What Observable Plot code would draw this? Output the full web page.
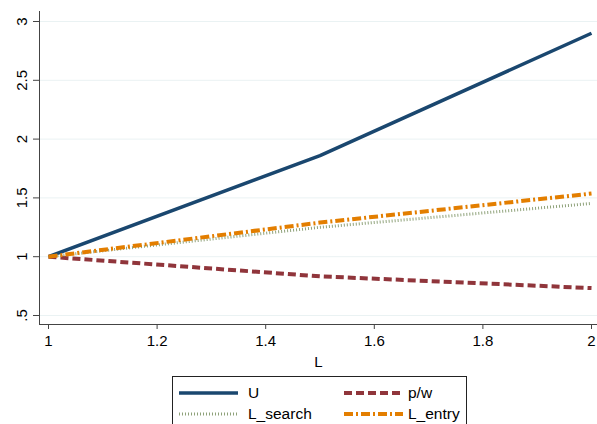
<!DOCTYPE html>
<html>
<head>
<meta charset="utf-8">
<script src="https://cdn.jsdelivr.net/npm/d3@7"></script>
<script src="https://cdn.jsdelivr.net/npm/@observablehq/plot@0.6"></script>
<style>
  body { margin: 0; background: #fff; font-family: "Liberation Sans", Arial, Helvetica, sans-serif; }
  #wrap { width: 597px; }
  #legend {
    margin-left: 172px; margin-top: 6px; width: 293px; height: 60px;
    border: 1px solid #222; box-sizing: content-box;
    display: grid; grid-template-columns: 165px 128px; grid-auto-rows: 21px;
    padding-top: 5px; font-size: 15.5px; color: #000;
  }
  .item { display: flex; align-items: center; }
  .item svg { margin-left: 6px; margin-right: 10px; }
  .item.c2 svg { margin-right: 5px; }
</style>
</head>
<body>
<div id="wrap"></div>
<script>
const Lvals = [1, 1.5, 2];
const U = [1, 1.86, 2.9];
const pw = [1, 0.833, 0.733];
const Lsearch = [1, 1.25, 1.453];
const Lentry = [1, 1.29, 1.537];
const yTicks = [0.5, 1, 1.5, 2, 2.5, 3];
const xTicks = [1, 1.2, 1.4, 1.6, 1.8, 2];

const seriesDefs = [
  {name: "U", values: U, color: "#1a476f", width: 3.5, dash: null},
  {name: "p/w", values: pw, color: "#90353b", width: 4, dash: "8,4"},
  {name: "L_search", values: Lsearch, color: "#8fa27a", width: 3, dash: "1,2"},
  {name: "L_entry", values: Lentry, color: "#e37e00", width: 4, dash: "9,3,2,3"}
];

const fmt = d => String(d).replace(/^0\./, ".");

const marks = [
  Plot.gridY(yTicks, {stroke: "#eaf2f3", strokeOpacity: 1, strokeWidth: 1}),
  Plot.frame({anchor: "left", stroke: "#444"}),
  Plot.frame({anchor: "bottom", stroke: "#444"}),
  Plot.axisY(yTicks, {tickSize: 6, tickPadding: 7, tickRotate: -90, tickFormat: fmt, fontSize: 15, label: null, stroke: "#444"}),
  Plot.axisX(xTicks, {tickSize: 5, tickPadding: 6, tickFormat: fmt, fontSize: 15, label: "L", labelAnchor: "center", labelArrow: "none", labelOffset: 42, stroke: "#444"})
];
for (const s of seriesDefs) {
  const data = Lvals.map((x, i) => ({x, y: s.values[i]}));
  marks.push(Plot.line(data, {x: "x", y: "y", stroke: s.color, strokeWidth: s.width, strokeDasharray: s.dash, strokeLinecap: "butt"}));
}

const chart = Plot.plot({
  width: 597, height: 370,
  marginLeft: 39, marginRight: 0, marginTop: 11, marginBottom: 46,
  style: {fontFamily: "'Liberation Sans', Arial, Helvetica, sans-serif", fontSize: "15px", color: "#000", background: "#fff"},
  x: {domain: [1, 2], insetLeft: 9, insetRight: 6},
  y: {domain: [0.5, 3], insetTop: 10, insetBottom: 9},
  marks
});
const wrap = document.getElementById("wrap");
wrap.appendChild(chart);

// Legend
const legend = document.createElement("div");
legend.id = "legend";
seriesDefs.forEach((s, i) => {
  const item = document.createElement("div");
  item.className = "item" + (i % 2 ? " c2" : "");
  const ns = "http://www.w3.org/2000/svg";
  const svg = document.createElementNS(ns, "svg");
  svg.setAttribute("width", 59); svg.setAttribute("height", 10);
  const ln = document.createElementNS(ns, "line");
  ln.setAttribute("x1", 0); ln.setAttribute("x2", 59);
  ln.setAttribute("y1", 5); ln.setAttribute("y2", 5);
  ln.setAttribute("stroke", s.color);
  ln.setAttribute("stroke-width", s.width);
  if (s.dash) ln.setAttribute("stroke-dasharray", s.dash);
  svg.appendChild(ln);
  item.appendChild(svg);
  const t = document.createElement("span");
  t.textContent = s.name;
  item.appendChild(t);
  legend.appendChild(item);
});
wrap.appendChild(legend);
</script>
</body>
</html>
